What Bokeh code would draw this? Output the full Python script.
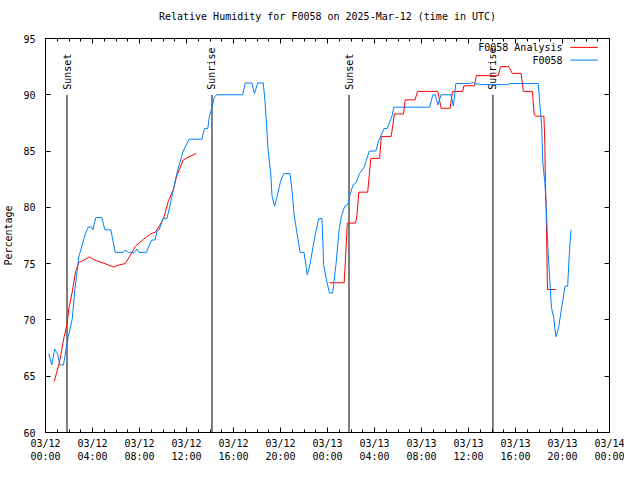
from math import pi
from bokeh.plotting import figure
from bokeh.models import FixedTicker, LinearAxis, Range1d, CustomLabelingPolicy
from bokeh.core.properties import value
from bokeh.embed import file_html
from bokeh.resources import INLINE

FONT = "DejaVu Sans Mono"

# hours since 2025-03-12 00:00 UTC
obs_hours = [0.28, 0.53, 0.78, 1.03, 1.22, 1.53, 1.78, 1.94, 2.28, 2.5, 2.69, 2.83, 3.11, 3.39, 3.61,
             3.89, 4.03, 4.28, 4.78, 5.06, 5.56, 5.94, 6.58, 6.78, 7.06, 7.56, 7.78, 7.97, 8.58, 9.03,
             9.31, 9.5, 9.67, 10.0, 10.33, 10.56, 10.89, 11.17, 11.72, 12.22, 13.31, 13.53, 13.81, 13.94,
             14.17, 14.36, 14.56, 16.78, 17.0, 17.56, 17.78, 18.06, 18.53, 18.67, 18.81, 18.94, 19.17,
             19.28, 19.5, 19.72, 20.0, 20.28, 20.81, 20.97, 21.17, 21.39, 21.67, 22.0, 22.28, 22.5,
             22.89, 23.25, 23.53, 23.67, 23.94, 24.17, 24.44, 24.72, 25.0, 25.19, 25.47, 25.75, 25.89,
             26.17, 26.44, 26.72, 27.14, 27.28, 27.56, 28.11, 28.39, 28.81, 29.08, 29.5, 29.64, 32.69,
             32.97, 33.17, 33.39, 33.67, 34.5, 34.72, 34.92, 36.17, 36.31, 36.58, 37.14, 39.36, 39.5,
             41.94, 42.06, 42.22, 42.33, 42.5, 42.61, 42.69, 42.78, 42.89, 43.06, 43.25, 43.44, 43.67,
             43.94, 44.22, 44.44, 44.56, 44.72]
obs_rh = [67.0, 66.0, 67.4, 67.0, 66.0, 66.0, 67.6, 68.5, 70.1, 72.7, 74.3, 75.6, 76.6, 77.65, 78.2,
          78.3, 78.0, 79.1, 79.1, 78.0, 78.0, 76.0, 76.0, 76.2, 76.0, 76.0, 76.3, 76.0, 76.0, 77.1,
          77.1, 77.9, 78.0, 79.0, 79.0, 80.0, 81.6, 83.0, 85.0, 86.05, 86.05, 87.0, 87.0, 88.0,
          88.9, 89.75, 90.0, 90.0, 91.05, 91.05, 90.1, 91.05, 91.05, 89.6, 87.4, 85.1, 83.0,
          81.0, 80.1, 81.0, 82.3, 83.0, 83.0, 81.6, 79.25, 77.8, 76.0, 76.0, 74.0, 74.9,
          77.2, 79.0, 79.0, 74.9, 73.4, 72.4, 72.4, 74.9, 78.1, 79.25, 80.1, 80.3, 81.0,
          82.0, 82.2, 83.0, 83.6, 84.1, 85.0, 85.0, 86.0, 87.0, 87.0, 88.15, 88.9, 88.9,
          90.0, 90.0, 89.1, 90.0, 90.0, 89.0, 91.0, 91.0, 91.1, 91.0, 90.9, 90.9, 91.0,
          91.0, 89.3, 87.4, 83.9, 82.2, 80.1, 78.1, 76.0, 74.0, 71.1, 70.2, 68.5, 69.3,
          71.2, 73.0, 73.0, 75.5, 78.0]

ana1_hours = [0.75, 1.22, 1.58, 1.81, 2.0, 2.28, 2.56, 2.83, 3.25, 3.72, 4.22, 5.06, 5.78, 6.31, 6.78,
              7.22, 7.69, 8.33, 8.94, 9.36, 9.72, 10.06, 10.47, 10.89, 11.17, 11.72, 12.14, 12.83]
ana1_rh = [64.55, 66.4, 68.5, 69.5, 71.1, 72.5, 74.3, 75.1, 75.3, 75.6, 75.3, 75.0, 74.7, 74.9, 75.0,
           75.75, 76.6, 77.15, 77.65, 77.8, 78.4, 79.05, 80.6, 81.6, 82.8, 84.2, 84.45, 84.8]

ana2_hours = [24.17, 25.42, 25.56, 25.69, 26.39, 26.5, 26.67, 27.42, 27.56, 27.69, 28.44, 28.58, 29.42,
              29.56, 29.69, 30.47, 30.61, 31.44, 31.67, 33.39, 33.67, 34.44, 34.64, 35.5, 35.61, 36.5,
              36.67, 38.53, 38.72, 39.44, 39.72, 40.47, 40.67, 41.44, 41.58, 41.72, 42.42, 42.5, 42.54,
              42.61, 42.67, 42.72, 43.44]
ana2_rh = [73.3, 73.3, 76.0, 78.6, 78.6, 79.25, 81.35, 81.35, 82.9, 84.35, 84.35, 86.3, 86.3,
           87.3, 88.3, 88.3, 89.55, 89.55, 90.3, 90.3, 88.8, 88.8, 90.3, 90.3, 90.8, 90.8,
           91.7, 91.7, 92.5, 92.5, 91.9, 91.9, 90.3, 90.3, 88.3, 88.1, 88.1, 85.5, 82.2,
           80.1, 76.0, 72.7, 72.7]

sun_hours = [1.83, 14.17, 25.83, 38.08]
sun_labels = ["Sunset", "Sunrise", "Sunset", "Sunrise"]
sun_line_top = 90.0

x_ticks = list(range(0, 49, 4))
x_tick_labels = ["03/12\n00:00", "03/12\n04:00", "03/12\n08:00", "03/12\n12:00", "03/12\n16:00",
                 "03/12\n20:00", "03/13\n00:00", "03/13\n04:00", "03/13\n08:00", "03/13\n12:00",
                 "03/13\n16:00", "03/13\n20:00", "03/14\n00:00"]
y_ticks = [60, 65, 70, 75, 80, 85, 90, 95]

RED = "#ff0000"
BLUE = "#0080ff"

p = figure(width=624, height=464, x_range=Range1d(0, 48), y_range=Range1d(60, 95),
           output_backend="svg", toolbar_location=None,
           min_border_left=44, min_border_right=14, min_border_top=38, min_border_bottom=30,
           title="Relative Humidity for F0058 on 2025-Mar-12 (time in UTC)")
p.title.text_font = FONT
p.title.text_font_size = "10px"
p.title.text_font_style = "normal"
p.title.align = "center"
p.title.text_color = "black"
p.title.standoff = 12
p.xgrid.visible = False
p.ygrid.visible = False
p.outline_line_color = "black"
p.outline_line_alpha = 1.0
p.background_fill_color = "white"
p.border_fill_color = "white"

xt = FixedTicker(ticks=x_ticks, minor_ticks=list(range(0, 49)))
yt = FixedTicker(ticks=y_ticks, minor_ticks=[])


def style(ax, labels=True):
    ax.axis_line_color = "black"
    ax.major_tick_in = 5
    ax.major_tick_out = 0
    ax.minor_tick_in = 3
    ax.minor_tick_out = 0
    ax.major_tick_line_color = "black"
    ax.minor_tick_line_color = "black"
    ax.major_label_text_font = FONT
    ax.major_label_text_font_size = "10px"
    ax.major_label_text_color = "black"
    if not labels:
        ax.major_label_standoff = 0
        ax.major_label_policy = CustomLabelingPolicy(code="return new Set()")


xa = p.xaxis[0]
xa.ticker = xt
xa.major_label_overrides = {t: l for t, l in zip(x_ticks, x_tick_labels)}
style(xa)
xa.major_label_standoff = 5

ya = p.yaxis[0]
ya.ticker = yt
style(ya)
ya.major_label_standoff = 10
ya.axis_label = "Percentage"
ya.axis_label_text_font = FONT
ya.axis_label_text_font_size = "10px"
ya.axis_label_text_font_style = "normal"
ya.axis_label_text_color = "black"
ya.axis_label_standoff = 6

top = LinearAxis(ticker=xt)
style(top, labels=False)
p.add_layout(top, "above")
right = LinearAxis(ticker=yt)
style(right, labels=False)
right.minor_tick_in = 0
p.add_layout(right, "right")

# sunrise / sunset markers
p.segment(x0=sun_hours, y0=[60] * len(sun_hours), x1=sun_hours, y1=[sun_line_top] * len(sun_hours),
          line_color="black", line_width=1)
p.text(x=sun_hours, y=[sun_line_top + 0.45] * len(sun_hours), text=sun_labels, angle=pi / 2,
       text_align="left", text_baseline="middle", text_font=value(FONT), text_font_size="10px",
       text_color="black")

p.line(ana1_hours, ana1_rh, line_color=RED, line_width=1)
p.line(ana2_hours, ana2_rh, line_color=RED, line_width=1)
p.line(obs_hours, obs_rh, line_color=BLUE, line_width=1)

# legend (gnuplot style: text then sample)
leg_names = ["F0058 Analysis", "F0058"]
leg_colors = [RED, BLUE]
leg_y = [94.21, 93.08]
p.text(x=[44.0] * 2, y=leg_y, text=leg_names, text_align="right", text_baseline="middle",
       text_font=value(FONT), text_font_size="10px", text_color="black")
p.segment(x0=[44.67] * 2, y0=leg_y, x1=[47.0] * 2, y1=leg_y, line_color=leg_colors, line_width=1)

open("out.html", "w").write(file_html(p, INLINE))
